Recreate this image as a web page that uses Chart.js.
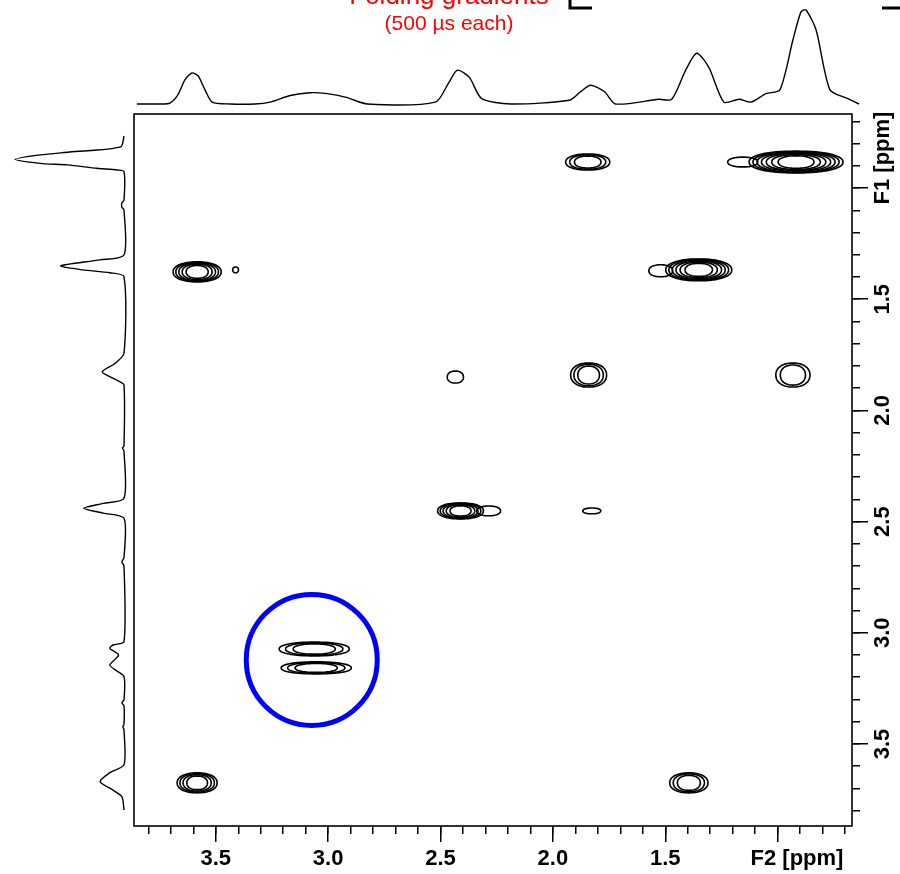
<!DOCTYPE html>
<html>
<head>
<meta charset="utf-8">
<script src="https://cdn.jsdelivr.net/npm/chart.js@4"></script>
<style>
  body { margin: 0; background: #fff; }
  #wrap { position: relative; width: 900px; height: 874px; }
  #wrap canvas { position: absolute; left: 0; top: 0; }
</style>
</head>
<body>
<div id="wrap">
  <canvas id="main" width="900" height="874"></canvas>
  <canvas id="top" width="900" height="114"></canvas>
  <canvas id="left" width="134" height="874"></canvas>
</div>
<script>
// axis ranges (ppm), both axes run high -> low
const f2Range = [0.669, 3.864];
const f1Range = [0.667, 3.869];

// F2 projection (top trace): ppm and intensity (tallest peak = 100)
const topPpm = [3.851, 3.748, 3.704, 3.668, 3.637, 3.606, 3.579, 3.548, 3.516, 3.436, 3.325, 3.258, 3.169, 3.080, 3.004, 2.919, 2.826,
  2.523, 2.465, 2.425, 2.371, 2.318, 2.188, 1.926, 1.877, 1.832, 1.770, 1.721, 1.529, 1.471, 1.409, 1.360, 1.306, 1.239,
  1.172, 1.119, 1.052, 0.990, 0.932, 0.896, 0.874, 0.829, 0.767, 0.690, 0.638];
const topInt = [0, 0, 1, 10, 26, 33, 30, 15, 2, 0, 0, 2, 9, 12, 11, 7, 0,
  2, 22, 36, 28, 6, 0, 4, 13, 20, 13, 0, 5, 5, 36, 54, 39, 2,
  5, 2, 11, 15, 68, 98, 100, 79, 15, 6, 0];

// F1 projection (left trace)
const leftPpm = [0.766, 0.815, 0.838, 0.851, 0.871, 0.889, 0.896, 0.911, 0.919, 0.926, 1.054, 1.067, 1.085, 1.099,
  1.301, 1.323, 1.350, 1.368, 1.381, 1.399, 1.743, 1.788, 1.826, 1.848, 1.871, 1.886, 2.160, 2.169, 2.182,
  2.395, 2.418, 2.440, 2.462, 2.485, 2.663, 2.681, 2.699, 3.040, 3.055, 3.070, 3.100, 3.145, 3.167, 3.197,
  3.302, 3.315, 3.329, 3.410, 3.423, 3.437, 3.593, 3.629, 3.669, 3.699, 3.737, 3.797];
const leftInt = [0, 3, 50, 77, 100, 77, 52, 25, 6, 0, 0, 2, 2, 0,
  0, 22, 58, 38, 13, 0, 0, 8, 20, 13, 4, 0, 0, 1.4, 0,
  0, 19, 37, 19, 0, 0, 2, 0, 0, 10, 13, 5, 13, 8, 0,
  0, 2, 0, 0, 1, 0, 0, 13, 22, 13, 2, 0];

// 2D cross peaks: centre (F2, F1), half widths in ppm, number of contour levels
const peakF2 = [1.845, 0.918, 1.155, 3.583, 3.412, 1.351, 1.520, 2.434, 1.841, 0.932, 2.411, 2.286, 1.827, 3.062, 3.053, 3.583, 1.395];
const peakF1 = [0.883, 0.883, 0.883, 1.377, 1.368, 1.368, 1.372, 1.850, 1.841, 1.841, 2.452, 2.452, 2.452, 3.073, 3.158, 3.675, 3.675];
const peakW2 = [0.098, 0.209, 0.067, 0.107, 0.013, 0.147, 0.053, 0.036, 0.080, 0.076, 0.102, 0.053, 0.040, 0.156, 0.156, 0.089, 0.085];
const peakW1 = [0.036, 0.049, 0.022, 0.045, 0.013, 0.049, 0.027, 0.027, 0.054, 0.054, 0.036, 0.022, 0.013, 0.031, 0.027, 0.045, 0.045];
const peakLevels = [3, 7, 1, 5, 1, 6, 1, 1, 3, 2, 5, 1, 1, 3, 3, 4, 3];

// highlighted folded peak
const circleF2 = [3.073];
const circleF1 = [3.122];

const FONT = "'Liberation Sans', Arial, sans-serif";
Chart.defaults.font.family = FONT;

var tickLabel = function(v) {
  return Math.abs(v - 1) < 1e-6 ? '' : v.toFixed(1);
};

// slightly flattened ellipse for a contour line
var contourPath = function(ctx, cx, cy, rx, ry) {
  const p = 2.2;
  ctx.beginPath();
  for (let a = 0; a <= 64; a++) {
    const t = a / 64 * Math.PI * 2;
    const c = Math.cos(t), s = Math.sin(t);
    const px = cx + rx * Math.sign(c) * Math.pow(Math.abs(c), 2 / p);
    const py = cy + ry * Math.sign(s) * Math.pow(Math.abs(s), 2 / p);
    if (a === 0) ctx.moveTo(px, py); else ctx.lineTo(px, py);
  }
  ctx.closePath();
  ctx.stroke();
};

var contours = {
  id: 'contours',
  beforeDatasetsDraw(chart) {
    const {ctx, chartArea, scales: {x, y}} = chart;
    ctx.save();
    ctx.beginPath();
    ctx.rect(chartArea.left, chartArea.top, chartArea.width, chartArea.height);
    ctx.clip();
    ctx.strokeStyle = '#000';
    ctx.lineWidth = 1.6;
    for (let i = 0; i < peakF2.length; i++) {
      const cx = x.getPixelForValue(peakF2[i]);
      const cy = y.getPixelForValue(peakF1[i]);
      const rx = Math.abs(x.getPixelForValue(peakF2[i] + peakW2[i]) - cx);
      const ry = Math.abs(y.getPixelForValue(peakF1[i] + peakW1[i]) - cy);
      const n = peakLevels[i];
      for (let k = 0; k < n; k++) {
        const t = 1 - k / (n + 0.5);
        contourPath(ctx, cx, cy, rx * Math.pow(t, 0.6), ry * Math.pow(t, 0.35));
      }
    }
    ctx.restore();
  }
};

var frame = {
  id: 'frame',
  afterDraw(chart) {
    const {ctx, chartArea: a} = chart;
    ctx.save();
    ctx.strokeStyle = '#000';
    ctx.lineWidth = 1.6;
    ctx.strokeRect(a.left, a.top, a.right - a.left, a.bottom - a.top);

    // axis titles
    ctx.fillStyle = '#000';
    ctx.font = 'bold 22px ' + FONT;
    ctx.textAlign = 'center';
    ctx.textBaseline = 'middle';
    ctx.fillText('F2 [ppm]', 797, 859);
    ctx.translate(883, 158);
    ctx.rotate(-Math.PI / 2);
    ctx.fillText('F1 [ppm]', 0, 0);
    ctx.restore();

    // clipped pulse-sequence caption at the top
    ctx.save();
    ctx.fillStyle = '#ff0000';
    ctx.textAlign = 'center';
    ctx.textBaseline = 'alphabetic';
    ctx.font = '26px ' + FONT;
    ctx.fillText('Folding gradients', 449, 4);
    ctx.font = '21px ' + FONT;
    ctx.fillText('(500 \u00b5s each)', 449, 30);
    ctx.strokeStyle = '#000';
    ctx.lineWidth = 3;
    ctx.beginPath();
    ctx.moveTo(570, 0);
    ctx.lineTo(570, 8);
    ctx.lineTo(592, 8);
    ctx.stroke();
    ctx.beginPath();
    ctx.moveTo(882, 8);
    ctx.lineTo(900, 8);
    ctx.stroke();
    ctx.restore();
  }
};

var majorAxis = function(pos, range, size) {
  const horizontal = pos === 'bottom';
  return {
    type: 'linear', position: pos, weight: 1,
    min: range[0], max: range[1], reverse: true,
    border: { display: false },
    grid: { drawOnChartArea: false, drawTicks: true, tickLength: 16, color: '#000', lineWidth: 1.5 },
    ticks: {
      stepSize: 0.5, includeBounds: false, autoSkip: false,
      color: '#000', font: { size: 22, weight: 'bold' },
      padding: horizontal ? 4 : 0,
      minRotation: horizontal ? 0 : 90, maxRotation: horizontal ? 0 : 90,
      crossAlign: horizontal ? 'near' : 'center',
      callback: tickLabel
    },
    afterFit: function(s) { if (horizontal) s.height = size; else s.width = size; }
  };
};

var minorAxis = function(pos, range) {
  const horizontal = pos === 'bottom';
  return {
    type: 'linear', position: pos, weight: 0,
    min: range[0], max: range[1], reverse: true,
    border: { display: false },
    grid: { drawOnChartArea: false, drawTicks: true, tickLength: 8, color: '#000', lineWidth: 1.5 },
    ticks: { stepSize: 0.1, includeBounds: false, display: false },
    afterFit: function(s) { if (horizontal) s.height = 0; else s.width = 0; }
  };
};

new Chart(document.getElementById('main'), {
  type: 'scatter',
  data: {
    datasets: [{
      label: 'folded peak',
      data: circleF2.map((v, i) => ({ x: v, y: circleF1[i] })),
      xAxisID: 'x', yAxisID: 'y',
      pointRadius: 65.5,
      pointBorderWidth: 5,
      pointBorderColor: '#0000ff',
      pointBackgroundColor: 'rgba(0,0,0,0)'
    }]
  },
  options: {
    responsive: false,
    animation: false,
    events: [],
    layout: { autoPadding: false, padding: { left: 134, top: 114, right: 0, bottom: 0 } },
    plugins: { legend: { display: false }, tooltip: { enabled: false } },
    scales: {
      x: majorAxis('bottom', f2Range, 48),
      xm: minorAxis('bottom', f2Range),
      y: majorAxis('right', f1Range, 48),
      ym: minorAxis('right', f1Range)
    }
  },
  plugins: [contours, frame]
});

new Chart(document.getElementById('top'), {
  type: 'scatter',
  data: {
    datasets: [{
      data: topPpm.map((v, i) => ({ x: v, y: topInt[i] })),
      showLine: true, pointRadius: 0, borderColor: '#000', borderWidth: 1.4, tension: 0.25, clip: false
    }]
  },
  options: {
    responsive: false, animation: false, events: [],
    layout: { autoPadding: false, padding: { left: 134, right: 48, top: 0, bottom: 0 } },
    plugins: { legend: { display: false }, tooltip: { enabled: false } },
    scales: {
      x: { type: 'linear', min: f2Range[0], max: f2Range[1], reverse: true, display: false },
      y: { type: 'linear', min: -10.64, max: 110.6, display: false }
    }
  }
});

new Chart(document.getElementById('left'), {
  type: 'scatter',
  data: {
    datasets: [{
      data: leftPpm.map((v, i) => ({ x: leftInt[i], y: v })),
      showLine: true, pointRadius: 0, borderColor: '#000', borderWidth: 1.4, tension: 0.25, clip: false
    }]
  },
  options: {
    responsive: false, animation: false, events: [],
    layout: { autoPadding: false, padding: { left: 0, right: 0, top: 114, bottom: 48 } },
    plugins: { legend: { display: false }, tooltip: { enabled: false } },
    scales: {
      x: { type: 'linear', min: -9.17, max: 113.8, reverse: true, display: false },
      y: { type: 'linear', min: f1Range[0], max: f1Range[1], reverse: true, display: false }
    }
  }
});
</script>
</body>
</html>
